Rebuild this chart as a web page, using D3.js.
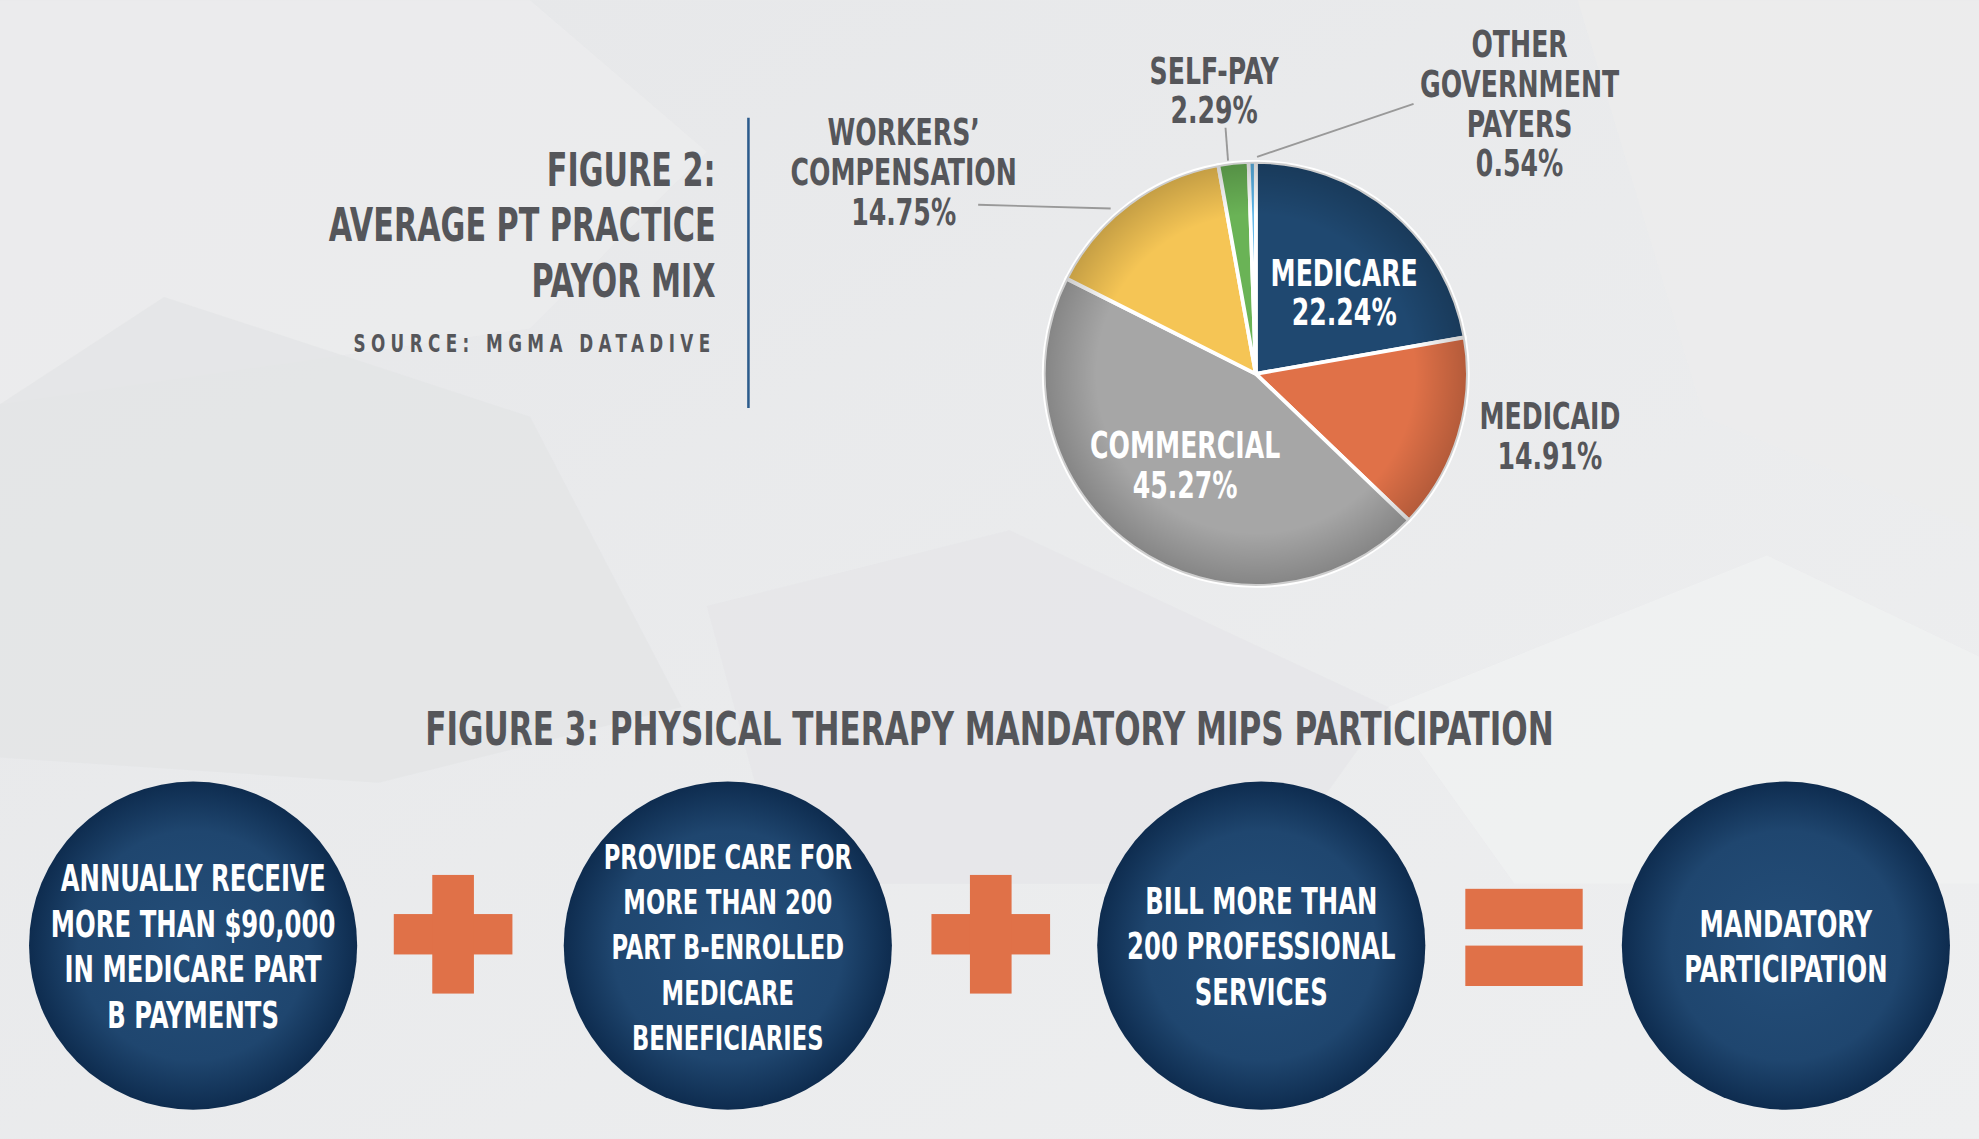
<!DOCTYPE html>
<html><head><meta charset="utf-8">
<script src="https://cdn.jsdelivr.net/npm/d3@7"></script>
<style>html,body{margin:0;padding:0;background:#e9eaeb;overflow:hidden}
text{font-family:"Liberation Sans Narrow","DejaVu Sans Condensed","Open Sans",sans-serif;font-weight:bold}</style>
</head><body>
<svg id="c" width="1979" height="1139" viewBox="0 0 1568 902"></svg>
<script>
const payors = ["Medicare","Medicaid","Commercial","Workers' Compensation","Self-Pay","Other Government Payers"];
const shares = [22.24,14.91,45.27,14.75,2.29,0.54];
const sliceColors = ["#1f4870","#e07148","#a6a6a6","#f5c555","#6ab356","#5bb5e8"];
const labelLines = [["MEDICARE","22.24%"],["MEDICAID","14.91%"],["COMMERCIAL","45.27%"],["WORKERS’","COMPENSATION","14.75%"],["SELF-PAY","2.29%"],["OTHER","GOVERNMENT","PAYERS","0.54%"]];
const criteria = [["ANNUALLY RECEIVE","MORE THAN $90,000","IN MEDICARE PART","B PAYMENTS"],["PROVIDE CARE FOR","MORE THAN 200","PART B-ENROLLED","MEDICARE","BENEFICIARIES"],["BILL MORE THAN","200 PROFESSIONAL","SERVICES"],["MANDATORY","PARTICIPATION"]];
const operators = ["+","+","="];

const svg = d3.select("#c");
const defs = svg.append("defs");
const SX = 0.74;
function ctext(x, y0, lines, lh, size, fill, anchor, extra){
  const g = svg.append("g").attr("transform",`translate(${x},0) scale(${SX},1)`);
  const t = g.append("text").attr("text-anchor",anchor||"middle").attr("font-size",size).attr("fill",fill);
  if(extra) extra(t);
  lines.forEach((l,j)=>t.append("tspan").attr("x",0).attr("y",y0+j*lh).text(l));
  return t;
}
const bg = defs.append("linearGradient").attr("id","bg").attr("x1",0).attr("y1",0).attr("x2",1).attr("y2",1);
bg.append("stop").attr("offset",0).attr("stop-color","#e6e7e9");
bg.append("stop").attr("offset",1).attr("stop-color","#eeeff0");
svg.append("rect").attr("width",1568).attr("height",902).attr("fill","url(#bg)");
const polys=[[[0,0],[420,0],[560,120],[420,260],[0,320]],[[0,320],[130,235],[420,330],[540,560],[300,620],[0,600]],[[560,480],[800,420],[1100,560],[1000,700],[620,700]],[[1250,0],[1568,0],[1568,420],[1350,330]],[[1100,560],[1400,440],[1568,520],[1568,700],[1200,700]]];
const pf=["#ecedee","#e3e4e6","#e5e6e8","#eceded","#f1f2f2"];
svg.selectAll("polygon.bg").data(polys).join("polygon").attr("points",d=>d.map(p=>p.join(",")).join(" ")).attr("fill",(d,i)=>pf[i]).attr("opacity",0.7);

const dark="#55565a";
ctext(567,147,["FIGURE 2:","AVERAGE PT PRACTICE","PAYOR MIX"],44,36,dark,"end");
ctext(567,279,["SOURCE: MGMA DATADIVE"],0,20,dark,"end",t=>t.attr("letter-spacing",5.8));
svg.append("line").attr("x1",593).attr("x2",593).attr("y1",93).attr("y2",323).attr("stroke","#2c5b8c").attr("stroke-width",2);

const cx=995, cy=296, R=168;
const pie=d3.pie().sort(null).value(d=>d)(shares);
const arc=d3.arc().innerRadius(0).outerRadius(R);
const g=svg.append("g").attr("transform",`translate(${cx},${cy})`);
g.selectAll("path").data(pie).join("path").attr("d",arc).attr("fill",(d,i)=>sliceColors[i]).attr("stroke","#fff").attr("stroke-width",3);
const sh=defs.append("radialGradient").attr("id","sh");
sh.append("stop").attr("offset",0.75).attr("stop-color","#000").attr("stop-opacity",0);
sh.append("stop").attr("offset",1).attr("stop-color","#000").attr("stop-opacity",0.2);
g.append("circle").attr("r",R).attr("fill","url(#sh)");

const lblPos=[[1065,226,"#fff"],[1228,340,dark],[939,363,"#fff"],[716,115,dark],[962,66,dark],[1204,45,dark]];
labelLines.forEach((lines,i)=>ctext(lblPos[i][0],lblPos[i][1],lines,31.5,30,lblPos[i][2]));
const leaders=[[[775,162],[880,165]],[[971,101],[973,127]],[[1120,82],[996,124]]];
svg.selectAll("line.ld").data(leaders).join("line").attr("x1",d=>d[0][0]).attr("y1",d=>d[0][1]).attr("x2",d=>d[1][0]).attr("y2",d=>d[1][1]).attr("stroke","#999").attr("stroke-width",1.5);

ctext(784,590,["FIGURE 3: PHYSICAL THERAPY MANDATORY MIPS PARTICIPATION"],0,37,dark);
const cg=defs.append("radialGradient").attr("id","cg");
cg.append("stop").attr("offset",0).attr("stop-color","#244e79");
cg.append("stop").attr("offset",0.7).attr("stop-color","#1f466f");
cg.append("stop").attr("offset",1).attr("stop-color","#0e2c4f");
const xs=d3.scaleLinear().domain([0,3]).range([153,1415]);
const ccy=749, cr=130;
criteria.forEach((lines,i)=>{
  const x=xs(i)+(i==1?3:i==2?5:0);
  svg.append("circle").attr("cx",x).attr("cy",ccy).attr("r",cr).attr("fill","url(#cg)");
  ctext(x, ccy-(lines.length-1)*36/2+11, lines, 36, i==1?27:29, "#fff");
});
const orange="#e07148";
const opX=[359,785,1207];
operators.forEach((op,i)=>{
  const ox=opX[i];
  if(op==="+"){
    svg.append("rect").attr("x",ox-47).attr("y",724).attr("width",94).attr("height",32).attr("fill",orange);
    svg.append("rect").attr("x",ox-16.5).attr("y",693).attr("width",33).attr("height",94).attr("fill",orange);
  } else {
    svg.append("rect").attr("x",ox-46).attr("y",704).attr("width",93).attr("height",32).attr("fill",orange);
    svg.append("rect").attr("x",ox-46).attr("y",749).attr("width",93).attr("height",32).attr("fill",orange);
  }
});
</script></body></html>
